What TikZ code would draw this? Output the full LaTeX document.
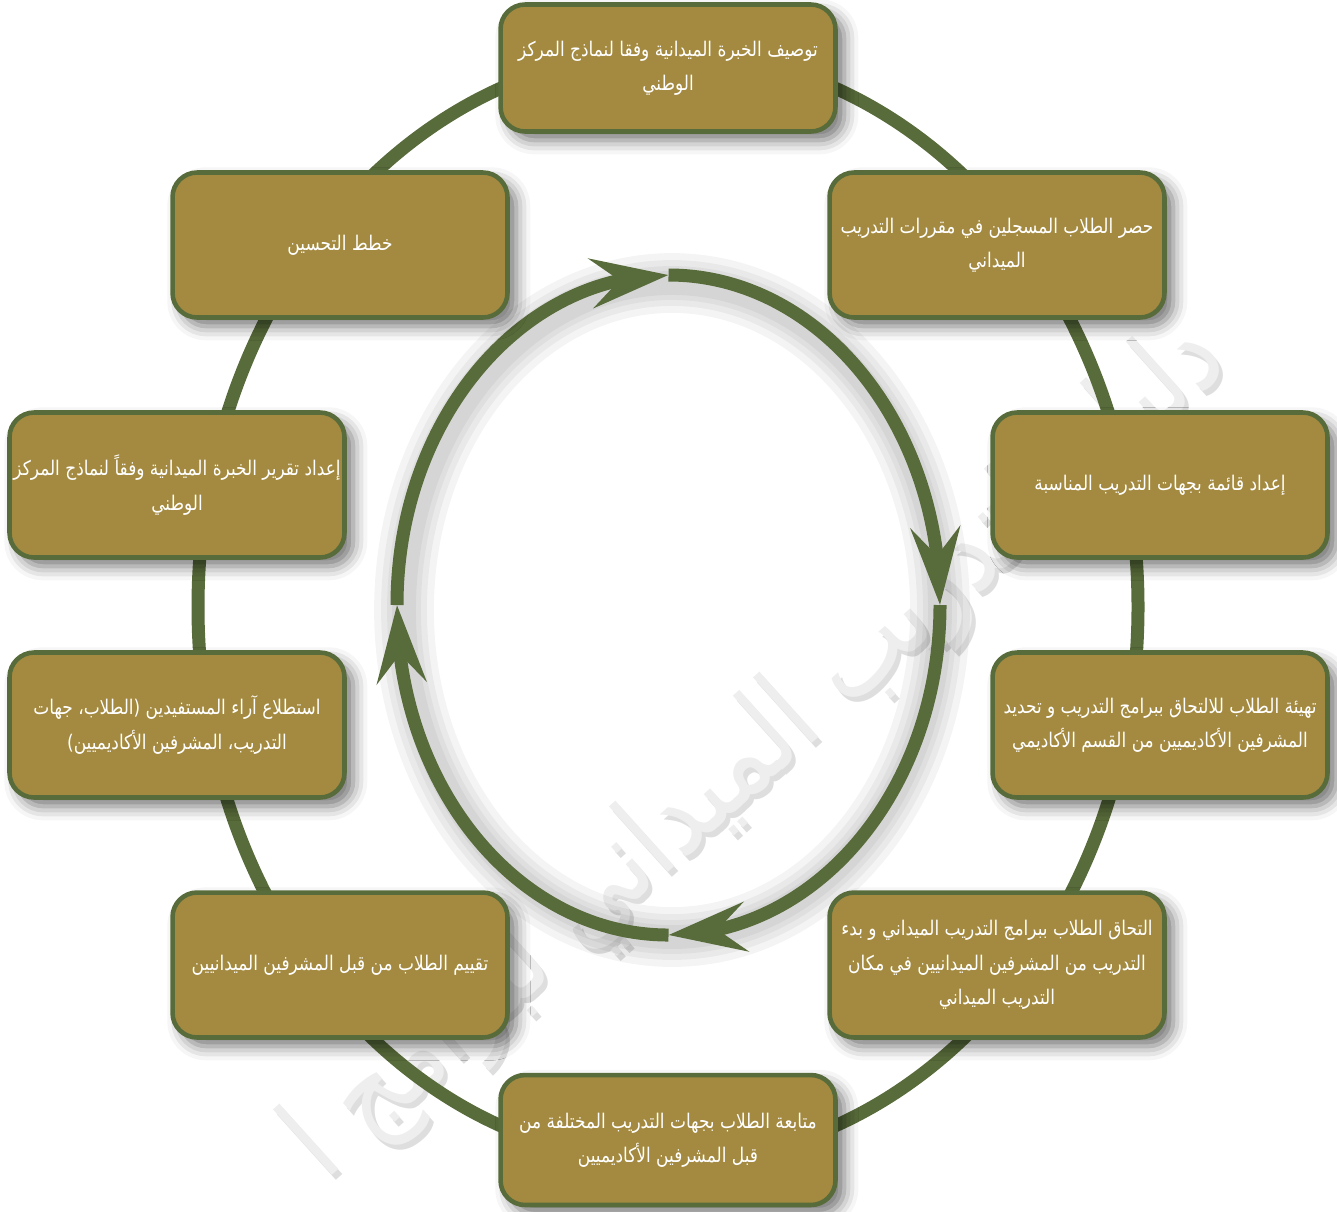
\documentclass[tikz,border=0pt]{standalone}
\usepackage{fontspec}
\newfontfamily\arabicfont[Script=Arabic,FakeStretch=0.84]{DejaVu Sans}
\TeXXeTstate=1
\usetikzlibrary{arrows.meta,bending,shadows.blur}
\definecolor{ringgreen}{HTML}{586B3A}
\definecolor{boxgold}{HTML}{A48A40}

\begin{document}
\begin{tikzpicture}[x=0.02cm,y=-0.02cm,
    stage/.style={draw=ringgreen,line width=2.6pt,fill=boxgold,rounded corners=14pt,
      minimum width=6.7cm,minimum height=2.9cm,inner xsep=2pt,align=center,text=white,
      font=\arabicfont\fontsize{11.5}{19.5}\selectfont,
      blur shadow={shadow xshift=5pt,shadow yshift=-5pt,shadow blur radius=8pt,shadow opacity=55}},
    cyclearrow/.style={ringgreen,line width=7.4pt,-{Stealth[length=44pt,width=28pt,inset=16pt]}},
    watermark/.style={rotate=42,anchor=east,font=\arabicfont\fontsize{66}{66}\selectfont}]
    \useasboundingbox (0,0) rectangle (1337,1211);
    \clip (0,0) rectangle (1337,1211);
    % watermark
    \node[watermark,text=gray!26] (markshade) at (1219,345) {\beginR دليل التدريب الميداني لبرامج ا\endR};
    \node[watermark,text=gray!13] (marktext) at (1215,340) {\beginR دليل التدريب الميداني لبرامج ا\endR};
    % outer ring
    \draw[ringgreen,line width=7.4pt] (668,607) ellipse [x radius=470, y radius=555];
    % soft shadow of the inner ring
    \foreach \w in {60,46,34,24}
        \draw[black,opacity=0.045,line width=\w*0.567pt] (672,610) ellipse [x radius=268, y radius=327];
    % inner cycle
    \draw[cyclearrow] (397,605) arc [start angle=180, end angle=270, x radius=271.5, y radius=330];
    \draw[cyclearrow] (668.5,275) arc [start angle=270, end angle=360, x radius=271.5, y radius=330];
    \draw[cyclearrow] (940,605) arc [start angle=0, end angle=90, x radius=271.5, y radius=330];
    \draw[cyclearrow] (668.5,935) arc [start angle=90, end angle=180, x radius=271.5, y radius=330];
    % stages
    \node[stage,minimum height=2.54cm] (describe) at (668,68) {\beginR توصيف الخبرة الميدانية وفقا لنماذج المركز\endR\\\beginR الوطني\endR};
    \node[stage] (register) at (997,245) {\beginR حصر الطلاب المسجلين في مقررات التدريب\endR\\\beginR الميداني\endR};
    \node[stage] (sites) at (1160,485) {\beginR إعداد قائمة بجهات التدريب المناسبة\endR};
    \node[stage] (prepare) at (1160,725) {\beginR تهيئة الطلاب للالتحاق ببرامج التدريب و تحديد\endR\\\beginR المشرفين الأكاديميين من القسم الأكاديمي\endR};
    \node[stage] (enrol) at (997,965) {\beginR التحاق الطلاب ببرامج التدريب الميداني و بدء\endR\\\beginR التدريب من المشرفين الميدانيين في مكان\endR\\\beginR التدريب الميداني\endR};
    \node[stage,minimum height=2.6cm] (follow) at (668,1140) {\beginR متابعة الطلاب بجهات التدريب المختلفة من\endR\\\beginR قبل المشرفين الأكاديميين\endR};
    \node[stage] (assess) at (340,965) {\beginR تقييم الطلاب من قبل المشرفين الميدانيين\endR};
    \node[stage] (survey) at (177,725) {\beginR استطلاع آراء المستفيدين (الطلاب، جهات\endR\\\beginR التدريب، المشرفين الأكاديميين)\endR};
    \node[stage] (report) at (177,485) {\beginR إعداد تقرير الخبرة الميدانية وفقاً لنماذج المركز\endR\\\beginR الوطني\endR};
    \node[stage] (improve) at (340,245) {\beginR خطط التحسين\endR};
\end{tikzpicture}
\end{document}
